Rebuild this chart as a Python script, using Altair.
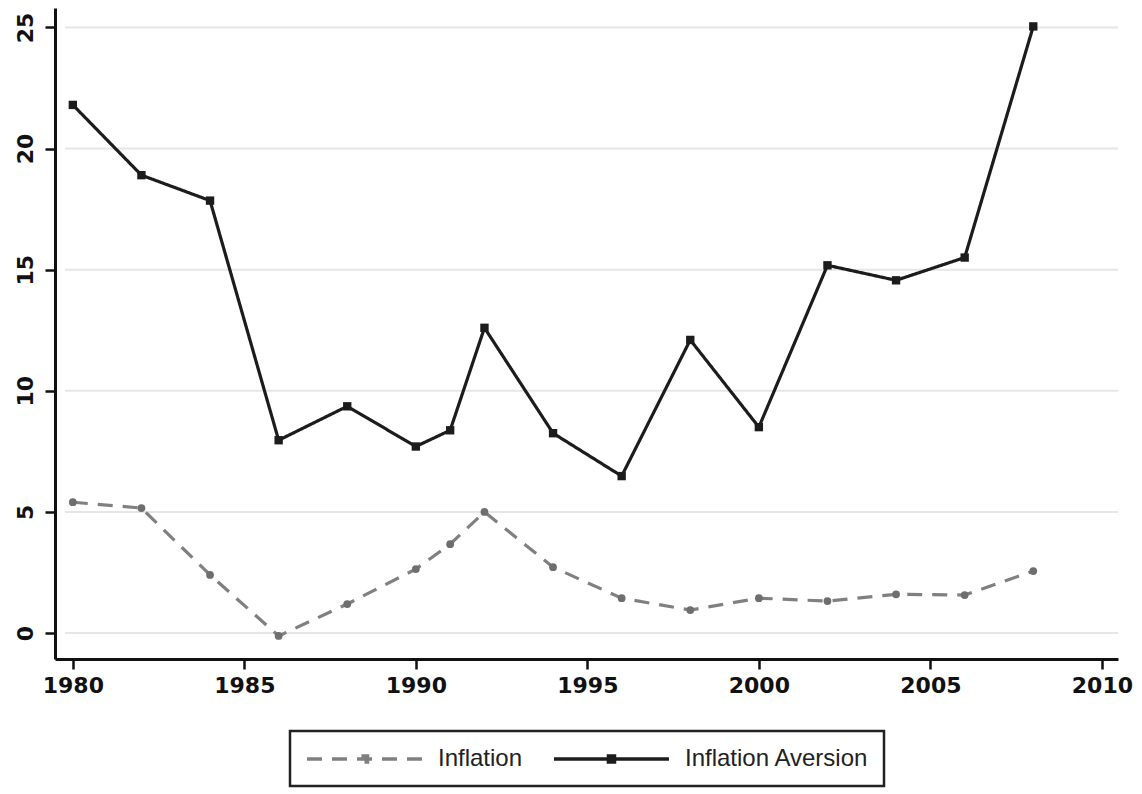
import altair as alt
import pandas as pd

years = [1980, 1982, 1984, 1986, 1988, 1990, 1991, 1992, 1994, 1996, 1998, 2000, 2002, 2004, 2006, 2008]
inflation = [5.4, 5.16, 2.4, -0.12, 1.2, 2.64, 3.67, 5.0, 2.72, 1.44, 0.95, 1.44, 1.32, 1.6, 1.57, 2.56]
aversion = [21.8, 18.9, 17.85, 7.96, 9.36, 7.7, 8.37, 12.6, 8.25, 6.48, 12.1, 8.5, 15.18, 14.56, 15.5, 25.04]
series_names = ["Inflation", "Inflation Aversion"]
x_ticks = [1980, 1985, 1990, 1995, 2000, 2005, 2010]
y_ticks = [0, 5, 10, 15, 20, 25]

rows = []
for y, a, b in zip(years, inflation, aversion):
    rows.append({"year": y, "value": a, "series": series_names[0]})
    rows.append({"year": y, "value": b, "series": series_names[1]})
df = pd.DataFrame(rows)
grid_df = pd.DataFrame({"v": y_ticks})

W = 1063
H = 651

xscale = alt.Scale(domain=[1979.48, 2010.47], nice=False, zero=False)
yscale = alt.Scale(domain=[-1.07, 25.8], nice=False, zero=False)

color_scale = alt.Scale(domain=series_names, range=["#808080", "#1c1c1c"])
dash_scale = alt.Scale(domain=series_names, range=[[15, 10], [1, 0]])

x_axis = alt.Axis(values=x_ticks, format="d", title=None, grid=False,
                  domainColor="#111", domainWidth=3, tickColor="#111",
                  tickWidth=2.5, tickSize=10, labelPadding=6,
                  labelFont="DejaVu Sans", labelFontSize=22, labelFontWeight="bold",
                  labelColor="#111")
y_axis = alt.Axis(values=y_ticks, title=None, grid=False,
                  domainColor="#111", domainWidth=3, tickColor="#111",
                  tickWidth=2.5, tickSize=10, labelPadding=8, labelAngle=270,
                  labelAlign="center", labelBaseline="bottom",
                  labelFont="DejaVu Sans", labelFontSize=22, labelFontWeight="bold",
                  labelColor="#111")

legend_symbol = "M-1,0H9.45M3.95,-0.27H4.5V0.27H3.95Z"

leg = alt.Legend(title=None, orient="none", legendX=235, legendY=723,
                 direction="horizontal", columns=2,
                 symbolType=legend_symbol, symbolSize=484,
                 symbolStrokeWidth=3.5, labelOffset=107,
                 columnPadding=24, padding=15, labelLimit=400,
                 labelFont="Liberation Sans", labelFontSize=24,
                 labelColor="#222", strokeColor="#222")

grid = alt.Chart(grid_df).mark_rule(color="#e6e6e6", strokeWidth=2).encode(
    y=alt.Y("v:Q", scale=yscale, axis=y_axis),
    x=alt.value(10),
    x2=alt.value(W),
)

lines = alt.Chart(df).mark_line(strokeWidth=3.2).encode(
    x=alt.X("year:Q", scale=xscale, axis=x_axis),
    y=alt.Y("value:Q", scale=yscale, axis=y_axis),
    color=alt.Color("series:N", scale=color_scale, legend=leg),
    strokeDash=alt.StrokeDash("series:N", scale=dash_scale, legend=leg),
    detail="series:N",
)

pts_infl = alt.Chart(df).transform_filter(alt.datum.series == series_names[0]).mark_point(
    filled=True, opacity=1, size=60, shape="circle", color="#6e6e6e").encode(
    x=alt.X("year:Q", scale=xscale, axis=x_axis),
    y=alt.Y("value:Q", scale=yscale, axis=y_axis),
)
pts_av = alt.Chart(df).transform_filter(alt.datum.series == series_names[1]).mark_point(
    filled=True, opacity=1, size=70, shape="square", color="#1c1c1c").encode(
    x=alt.X("year:Q", scale=xscale, axis=x_axis),
    y=alt.Y("value:Q", scale=yscale, axis=y_axis),
)

chart = alt.layer(grid, lines, pts_infl, pts_av).properties(
    width=W, height=H,
    autosize=alt.AutoSizeParams(type="none"),
    padding={"left": 47, "top": 0, "right": 16, "bottom": 135},
).configure_view(stroke=None).configure_legend(strokeWidth=2.5)

chart.save("out.html", embed_options={"renderer": "svg", "actions": False})
